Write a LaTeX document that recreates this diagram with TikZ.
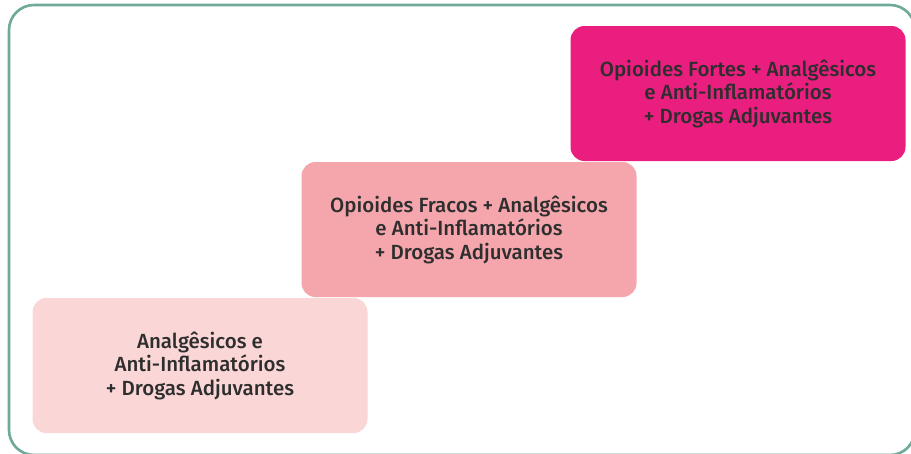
\documentclass[tikz,border=0pt]{standalone}
\usepackage{fontspec}
\setmainfont{Fira Sans}[BoldFont={Fira Sans Medium}]
\definecolor{frameline}{HTML}{6FA99A}
\definecolor{stepA}{HTML}{FAD6D6}
\definecolor{stepB}{HTML}{F4A6AC}
\definecolor{stepC}{HTML}{EA1E7F}
\definecolor{textgray}{HTML}{2E2E2E}
\begin{document}
\begin{tikzpicture}[x=1pt,y=-1pt,font=\fontsize{20.5}{23.5}\selectfont\bfseries,
stepbox/.style={fill=#1,rounded corners=14pt,minimum width=335pt,minimum height=135pt,align=center,text=textgray,inner sep=0pt}]
\useasboundingbox (0,0) rectangle (911,453);
\clip (0,0) rectangle (911,453);
\draw[frameline,line width=2.6pt,rounded corners=25pt] (9,5) rectangle (915,455);
\node[stepbox=stepA] (basic) at (200,365.5) {Analgêsicos e\\Anti-Inflamatórios\\+ Drogas Adjuvantes};
\node[stepbox=stepB] (weak) at (469,229.5) {Opioides Fracos + Analgêsicos\\e Anti-Inflamatórios\\+ Drogas Adjuvantes};
\node[stepbox=stepC] (strong) at (738,93.5) {Opioides Fortes + Analgêsicos\\e Anti-Inflamatórios\\+ Drogas Adjuvantes};
\end{tikzpicture}
\end{document}
